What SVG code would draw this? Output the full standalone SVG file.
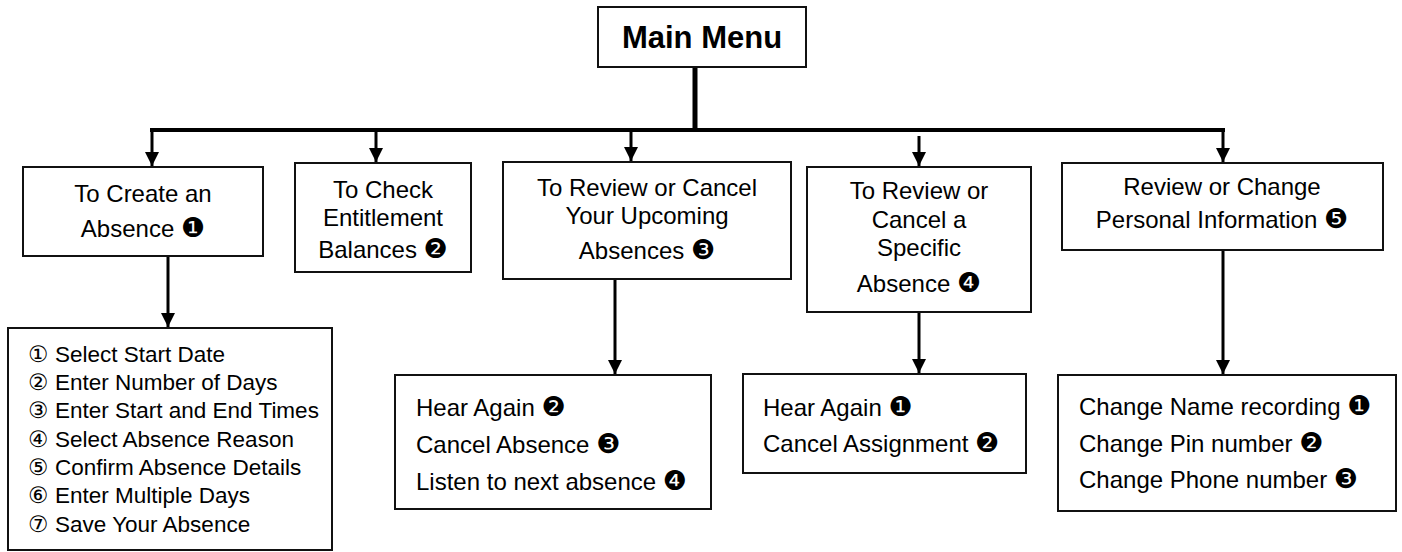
<svg xmlns="http://www.w3.org/2000/svg" width="1402" height="552" viewBox="0 0 1402 552">
<style>
.box{fill:#fff;stroke:#111;stroke-width:2}
.t{font-family:"Liberation Sans","DejaVu Sans","Noto Sans CJK JP",sans-serif;font-size:24px;fill:#000}
.s{font-family:"Liberation Sans","DejaVu Sans","Noto Sans CJK JP",sans-serif;font-size:22.5px;fill:#000}
.d{font-family:"DejaVu Sans",sans-serif;font-size:27px}
.c{text-anchor:middle}
.mm{font-family:"Liberation Sans",Arial,sans-serif;font-size:31px;font-weight:bold;text-anchor:middle;fill:#000}
.ln{stroke:#000;fill:none}
</style>
<defs>
<marker id="ah" viewBox="0 0 14 14" refX="14" refY="7" markerWidth="14" markerHeight="14" markerUnits="userSpaceOnUse" orient="auto">
<path d="M0,0 L14,7 L0,14 z" fill="#000"/>
</marker>
</defs>
<g id="connectors">
<line class="ln" x1="695" y1="67" x2="695" y2="132" stroke-width="5"/>
<line class="ln" x1="150" y1="130" x2="1225" y2="130" stroke-width="4"/>
<line class="ln" x1="152" y1="130" x2="152" y2="166" stroke-width="3" marker-end="url(#ah)"/>
<line class="ln" x1="376" y1="130" x2="376" y2="162" stroke-width="3" marker-end="url(#ah)"/>
<line class="ln" x1="631" y1="130" x2="631" y2="161" stroke-width="3" marker-end="url(#ah)"/>
<line class="ln" x1="919" y1="136" x2="919" y2="166" stroke-width="3" marker-end="url(#ah)"/>
<line class="ln" x1="1223" y1="130" x2="1223" y2="162" stroke-width="3" marker-end="url(#ah)"/>
<line class="ln" x1="168" y1="257" x2="168" y2="327" stroke-width="3" marker-end="url(#ah)"/>
<line class="ln" x1="615" y1="280" x2="615" y2="374" stroke-width="3" marker-end="url(#ah)"/>
<line class="ln" x1="919" y1="313" x2="919" y2="373" stroke-width="3" marker-end="url(#ah)"/>
<line class="ln" x1="1223" y1="251" x2="1223" y2="374" stroke-width="3" marker-end="url(#ah)"/>
</g>
<g id="main-menu">
<rect class="box" x="598" y="7" width="208" height="60"/>
<text class="mm" x="702" y="48">Main Menu</text>
</g>
<g id="create-absence">
<rect class="box" x="23" y="167" width="240" height="89"/>
<text class="t c" x="143" y="202">To Create an</text>
<text class="t c" x="143" y="237">Absence <tspan class="d">❶</tspan></text>
</g>
<g id="check-balances">
<rect class="box" x="295" y="163" width="176" height="109"/>
<text class="t c" x="383" y="198">To Check</text>
<text class="t c" x="383" y="226">Entitlement</text>
<text class="t c" x="383" y="258">Balances <tspan class="d">❷</tspan></text>
</g>
<g id="review-upcoming">
<rect class="box" x="503" y="162" width="288" height="117"/>
<text class="t c" x="647" y="196">To Review or Cancel</text>
<text class="t c" x="647" y="224">Your Upcoming</text>
<text class="t c" x="647" y="259">Absences <tspan class="d">❸</tspan></text>
</g>
<g id="review-specific">
<rect class="box" x="807" y="167" width="224" height="145"/>
<text class="t c" x="919" y="199">To Review or</text>
<text class="t c" x="919" y="228">Cancel a</text>
<text class="t c" x="919" y="256">Specific</text>
<text class="t c" x="919" y="292">Absence <tspan class="d">❹</tspan></text>
</g>
<g id="personal-info">
<rect class="box" x="1062" y="163" width="321" height="87"/>
<text class="t c" x="1222" y="195">Review or Change</text>
<text class="t c" x="1222" y="228">Personal Information <tspan class="d">❺</tspan></text>
</g>
<g id="create-steps">
<rect class="box" x="8" y="328" width="324" height="222"/>
<text class="s" x="28" y="362">①<tspan x="55">Select Start Date</tspan></text>
<text class="s" x="28" y="390">②<tspan x="55">Enter Number of Days</tspan></text>
<text class="s" x="28" y="418">③<tspan x="55">Enter Start and End Times</tspan></text>
<text class="s" x="28" y="447">④<tspan x="55">Select Absence Reason</tspan></text>
<text class="s" x="28" y="475">⑤<tspan x="55">Confirm Absence Details</tspan></text>
<text class="s" x="28" y="503">⑥<tspan x="55">Enter Multiple Days</tspan></text>
<text class="s" x="28" y="532">⑦<tspan x="55">Save Your Absence</tspan></text>
</g>
<g id="upcoming-options">
<rect class="box" x="395" y="375" width="316" height="134"/>
<text class="t" x="416" y="416">Hear Again <tspan class="d">❷</tspan></text>
<text class="t" x="416" y="453">Cancel Absence <tspan class="d">❸</tspan></text>
<text class="t" x="416" y="490">Listen to next absence <tspan class="d">❹</tspan></text>
</g>
<g id="specific-options">
<rect class="box" x="743" y="374" width="283" height="99"/>
<text class="t" x="763" y="416">Hear Again <tspan class="d">❶</tspan></text>
<text class="t" x="763" y="452">Cancel Assignment <tspan class="d">❷</tspan></text>
</g>
<g id="personal-options">
<rect class="box" x="1058" y="375" width="338" height="136"/>
<text class="t" x="1079" y="415">Change Name recording <tspan class="d">❶</tspan></text>
<text class="t" x="1079" y="452">Change Pin number <tspan class="d">❷</tspan></text>
<text class="t" x="1079" y="488">Change Phone number <tspan class="d">❸</tspan></text>
</g>
</svg>
